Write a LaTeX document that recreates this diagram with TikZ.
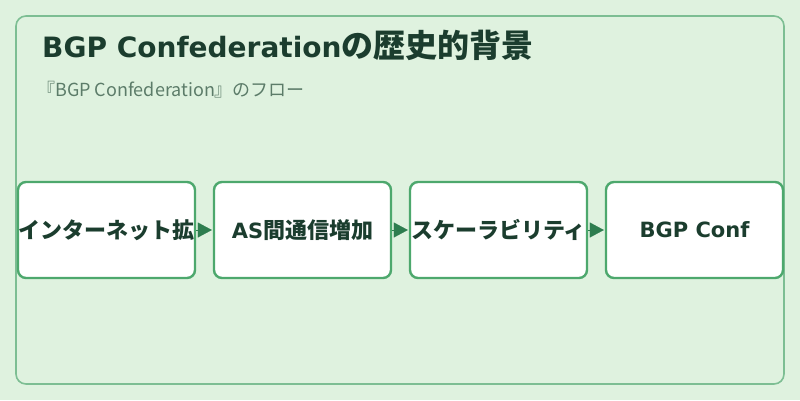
\documentclass[tikz,border=0pt]{standalone}
\usepackage{fontspec}
\setmainfont{Noto Sans CJK JP}
\newfontfamily\latsans{DejaVu Sans}[BoldFont={DejaVu Sans Bold}]
\usetikzlibrary{arrows.meta}
\definecolor{bgc}{HTML}{DFF2DF}
\definecolor{frame}{HTML}{7DBE93}
\definecolor{boxline}{HTML}{4DA86D}
\definecolor{arrowc}{HTML}{2E7D4F}
\definecolor{titlec}{HTML}{1B3D2E}
\definecolor{subc}{HTML}{5C7C69}
\newcommand{\boxlat}[1]{{\latsans\bfseries\fontsize{21}{25}\selectfont #1}}
\newcommand{\titlelat}[1]{{\latsans\bfseries\fontsize{28}{32}\selectfont #1}}
\begin{document}
\begin{tikzpicture}[x=1pt,y=-1pt,
  stepbox/.style={draw=boxline,line width=2.4pt,fill=white,rounded corners=8pt,
    minimum width=177pt,minimum height=96pt,inner sep=0pt,
    font=\fontsize{22}{26}\selectfont\bfseries,text=titlec},
  flow/.style={draw=arrowc,line width=0.1pt,-{Triangle[length=14pt,width=15pt,fill=arrowc]},shorten >=1pt}]
\fill[bgc] (0,0) rectangle (800,400);
\useasboundingbox (0,0) rectangle (800,400);
\draw[frame,line width=1.6pt,rounded corners=10pt] (16,16) rectangle (784,384);
\node[anchor=base west,inner sep=0pt,text=titlec,font=\fontsize{32}{36}\selectfont\bfseries] (title) at (42,57) {\titlelat{BGP Confederation}の歴史的背景};
\node[anchor=base west,inner sep=0pt,text=subc,font=\fontsize{18}{21}\selectfont] (sub) at (37,96) {『BGP Confederation』のフロー};
\node[stepbox] (a) at (106.5,230) {インターネット拡};
\node[stepbox] (b) at (302.5,230) {\boxlat{AS}間通信増加};
\node[stepbox] (c) at (498.5,230) {スケーラビリティ};
\node[stepbox] (d) at (694.5,230) {\boxlat{BGP Conf}};
\draw[flow] (a.east) -- (b.west);
\draw[flow] (b.east) -- (c.west);
\draw[flow] (c.east) -- (d.west);
\end{tikzpicture}
\end{document}
